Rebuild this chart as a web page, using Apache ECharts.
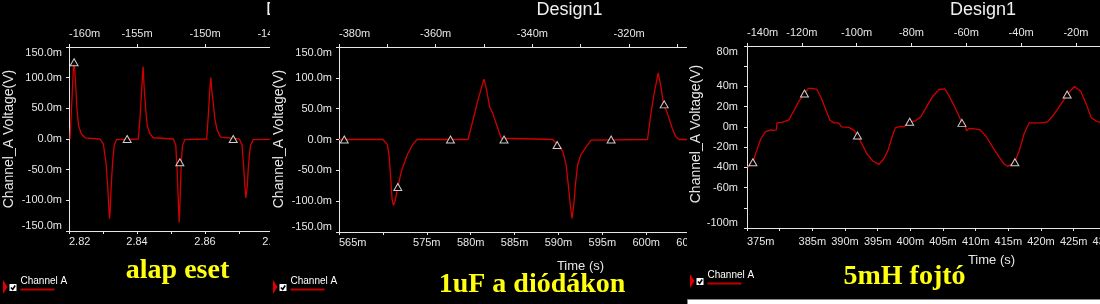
<!DOCTYPE html>
<html>
<head>
<meta charset="utf-8">
<script src="https://cdn.jsdelivr.net/npm/echarts@6/dist/echarts.min.js"></script>
<style>
html,body{margin:0;padding:0;background:#000;}
#wrap{position:relative;width:1100px;height:304px;overflow:hidden;background:#000;}
.pane{position:absolute;top:0;height:304px;}
</style>
</head>
<body>
<div id="wrap">
  <div id="p1" class="pane" style="left:0;width:270px"></div>
  <div id="p2" class="pane" style="left:270px;width:417px"></div>
  <div id="p3" class="pane" style="left:687px;width:413px"></div>
</div>
<script>
// panel 1 - alap eset (time in s, voltage in mV)
var p1Time = [2.8203, 2.8205, 2.8209, 2.8213, 2.8215, 2.8219, 2.8223, 2.8228, 2.8236, 2.8247,
  2.8291, 2.8301, 2.8309, 2.8314, 2.8319, 2.8321, 2.8324, 2.8328, 2.8333, 2.8340,
  2.8404, 2.8409, 2.8414, 2.8418, 2.8421, 2.8426, 2.8430, 2.8438, 2.8448,
  2.8507, 2.8514, 2.8518, 2.8521, 2.8524, 2.8527, 2.8530, 2.8534, 2.8541,
  2.8605, 2.8610, 2.8614, 2.8617, 2.8620, 2.8624, 2.8629, 2.8636, 2.8646,
  2.8701, 2.8709, 2.8713, 2.8717, 2.8720, 2.8724, 2.8727, 2.8730, 2.8734, 2.8742, 2.8890];
var p1Volt = [0, 3, 68, 117, 125, 95, 52, 22, 8.5, 2,
  0, -8, -40, -79, -130, -119, -79, -40, -10, -1,
  0, 35, 84, 118, 84, 46, 22, 8.5, 2,
  0, -10, -51, -95, -136, -95, -40, -10, -1,
  0, 41, 79, 100, 79, 60, 33, 14, 3,
  0, -10, -40, -73, -96, -79, -51, -29, -10, -1, 0];
var p1MarkT = [2.8215, 2.8371, 2.8526, 2.8683];
var p1MarkV = [125, 0, -38, 0];

// panel 2 - 1uF a diódákon (time in ms, voltage in mV)
var p2Time = [565, 570.0, 570.5, 570.7, 570.9, 571.05, 571.2, 571.4, 571.7, 572.1, 572.8, 573.4, 573.9,
  579.69, 580.26, 580.83, 581.51, 581.78, 582.16, 582.53, 582.92, 583.49, 583.67,
  589.35, 589.85, 590.49, 590.87, 591.17, 591.36, 591.55, 591.74, 591.93, 592.19, 592.58, 593.15, 593.72,
  600.15, 600.53, 600.91, 601.36, 601.67, 601.97, 602.42, 602.99, 603.38, 603.75, 610];
var p2Volt = [0, 0, -8, -25, -64, -97, -107, -99, -77, -52, -24, -8, 0,
  0, 31, 64, 98, 83, 53, 42, 25, 2, 0,
  0, -8, -19, -41, -80, -107, -128, -107, -74, -41, -24, -12, -1,
  0, 42, 75, 108, 86, 57, 42, 17, 4, 0, 0];
var p2MarkT = [565.6, 571.7, 577.7, 583.8, 589.85, 596.0, 602.05];
var p2MarkV = [0, -77, 0, 0, -9, 0, 57];

// panel 3 - 5mH fojtó (time in ms, voltage in mV)
var p3Time = [375.1, 375.9, 376.5, 377.1, 377.8, 378.6, 379.1, 379.5, 379.6, 380.4, 381.4, 382.1, 382.9,
  383.8, 384.4, 385.0, 385.7, 386.4, 387.0, 387.7, 388.3, 389.0, 389.5, 390.6, 391.4, 391.9, 392.6,
  393.4, 394.3, 395.2, 395.9, 396.6, 397.2, 397.7, 398.4, 399.0, 399.6, 399.9, 400.8, 401.6, 402.5,
  403.4, 404.4, 405.3, 405.9, 406.7, 407.5, 407.9, 408.4, 408.6, 409.0, 409.8, 410.7, 411.6, 412.6,
  413.6, 414.4, 414.9, 415.5, 416.0, 416.7, 417.4, 418.2, 419.2, 420.2, 421.0, 421.7, 422.8, 424.0,
  425.1, 426.1, 426.9, 427.7, 428.4, 429.2, 430.0];
var p3Volt = [-40, -35, -23, -12, -5, -3, -3.5, -3, 4, 4.5, 7, 15, 25,
  33, 38, 38, 37, 28, 18, 6.5, 4, 4, 0, -0.5, -3.5, -8.5, -17,
  -27, -34, -37, -32, -23, -10, -1, 0.5, 0, 3, 5, 6, 10, 20,
  30, 37, 37.5, 31, 21, 10, 4, 1, -4, -1.5, -2, -3, -9.5, -20,
  -30, -37, -39, -37, -35, -23, -7, 4, 4, 4, 5, 10, 20, 32,
  40, 35, 23, 9, 6, 4, 3];
var p3MarkT = [375.9, 383.8, 391.9, 399.9, 407.9, 416.0, 424.0];
var p3MarkV = [-35, 33, -8.5, 5, 4, -35, 32];

var FG = '#e6e6e6';
var RED = '#d00000';

function zip(a, b) { return a.map(function (v, i) { return [v, b[i]]; }); }

function xAxisOf(pos, c, margin) {
  return {
    type: 'value', position: pos, min: c.min, max: c.max, interval: c.interval,
    axisLine: { show: true, onZero: false, lineStyle: { color: FG, width: 1 } },
    axisTick: { show: true, length: 3, lineStyle: { color: FG } },
    minorTick: { show: !!c.minor, splitNumber: c.minor || 5, length: 3, lineStyle: { color: FG } },
    splitLine: { show: false },
    axisLabel: {
      color: FG, fontSize: 11, fontFamily: 'Arial', margin: margin,
      alignMinLabel: 'left', showMaxLabel: false, formatter: c.fmt
    }
  };
}

function decor(c) {
  var g = [];
  var ly = c.legendY;
  g.push({ type: 'text', style: { text: 'Design1', x: c.designX, y: 1, font: '18px Arial', fill: '#f0f0f0', verticalAlign: 'top' } });
  // y axis title, rotated
  g.push({ type: 'text', x: 9, y: c.nameY, rotation: Math.PI / 2, style: { text: 'Channel_A Voltage(V)', font: '14px Arial', fill: FG, align: 'center', verticalAlign: 'middle' } });
  // legend
  g.push({ type: 'polygon', shape: { points: [[3, ly], [7.5, ly + 7], [3, ly + 14]] }, style: { fill: '#e00000' } });
  g.push({ type: 'rect', shape: { x: 9.5, y: ly + 4, width: 7, height: 7 }, style: { fill: '#fff' } });
  g.push({ type: 'polyline', shape: { points: [[11, ly + 7.5], [12.7, ly + 9.5], [15.2, ly + 5.5]] }, style: { stroke: '#000', lineWidth: 1.6, fill: null } });
  g.push({ type: 'text', style: { text: 'Channel A', x: 20.5, y: ly - 4, font: '10px Arial', fill: '#fff', verticalAlign: 'top' } });
  g.push({ type: 'line', shape: { x1: 20.5, y1: ly + 9.5, x2: 54.5, y2: ly + 9.5 }, style: { stroke: '#c00000', lineWidth: 2 } });
  g.push({ type: 'text', style: { text: c.caption, x: c.capX, y: c.capY, font: 'bold 28px "Liberation Serif"', fill: '#ffff10', align: 'center', verticalAlign: 'middle' } });
  if (c.timeX) {
    g.push({ type: 'text', style: { text: 'Time (s)', x: c.timeX, y: c.timeY, font: '13px Arial', fill: FG, align: 'center', verticalAlign: 'middle' } });
  }
  if (c.strip) {
    g.push({ type: 'rect', shape: { x: 0.5, y: 299.5, width: 420, height: 6 }, style: { fill: '#fff', stroke: '#888', lineWidth: 1 } });
  }
  return g;
}

function panel(id, c) {
  var chart = echarts.init(document.getElementById(id), null, { renderer: 'canvas' });
  chart.setOption({
    backgroundColor: '#000',
    animation: false,
    grid: { left: c.grid[0], top: c.grid[1], width: c.grid[2], height: c.grid[3], outerBoundsMode: 'none', containLabel: false },
    xAxis: [xAxisOf('bottom', c.bottom, c.bottomMargin), xAxisOf('top', c.top, 8)],
    yAxis: {
      type: 'value', min: c.y.min, max: c.y.max, interval: c.y.interval,
      axisLine: { show: true, onZero: false, lineStyle: { color: FG, width: 1 } },
      axisTick: { show: true, length: 3, lineStyle: { color: FG } },
      splitLine: { show: false },
      axisLabel: {
        color: FG, fontSize: 11, fontFamily: 'Arial', margin: c.yMargin, formatter: c.y.fmt,
        verticalAlignMinLabel: 'bottom', verticalAlignMaxLabel: 'top'
      }
    },
    series: [{
      type: 'line', data: zip(c.t, c.v), xAxisIndex: 0, showSymbol: false, clip: true,
      lineStyle: { color: RED, width: 1.3 }
    }, {
      type: 'scatter', data: zip(c.mt, c.mv), xAxisIndex: 0, symbol: 'triangle', symbolSize: [8, 7],
      itemStyle: { color: '#000', borderColor: '#fff', borderWidth: 1 }, z: 4
    }],
    graphic: decor(c)
  });
}

function ms(v) { return v + 'm'; }

panel('p1', {
  grid: [69, 47, 238, 184],
  bottom: { min: 2.82, max: 2.89, interval: 0.02, minor: 2, fmt: function (v) { return v.toFixed(2); } },
  top: { min: -160, max: -142.5, interval: 5, fmt: ms },
  bottomMargin: 5,
  y: { min: -150, max: 150, interval: 50, fmt: function (v) { return v.toFixed(1) + 'm'; } },
  yMargin: 7, nameY: 139,
  t: p1Time, v: p1Volt, mt: p1MarkT, mv: p1MarkV,
  designX: 266, legendY: 280, caption: 'alap eset', capX: 177.5, capY: 270.5
});

panel('p2', {
  grid: [69, 47, 395, 185],
  bottom: { min: 565, max: 610, interval: 5, fmt: function (v) { return v === 570 ? '' : v + 'm'; } },
  top: { min: -380, max: -298.3, interval: 20, minor: 2, fmt: ms },
  bottomMargin: 5,
  y: { min: -150, max: 150, interval: 50, fmt: function (v) { return v.toFixed(1) + 'm'; } },
  yMargin: 7, nameY: 139,
  t: p2Time, v: p2Volt, mt: p2MarkT, mv: p2MarkV,
  designX: 266.5, legendY: 280, caption: '1uF a diódákon', capX: 262, capY: 284.5,
  timeX: 310.5, timeY: 266
});

panel('p3', {
  grid: [60, 46, 392, 182],
  bottom: { min: 375, max: 435, interval: 5, fmt: function (v) { return v === 380 ? '' : v + 'm'; } },
  top: { min: -140, max: 3, interval: 20, fmt: ms },
  bottomMargin: 8,
  y: { min: -100, max: 80, interval: 20, fmt: function (v) { return (v === 60 || v === -80) ? '' : v + 'm'; } },
  yMargin: 9, nameY: 134,
  t: p3Time, v: p3Volt, mt: p3MarkT, mv: p3MarkV,
  designX: 263, legendY: 274, caption: '5mH fojtó', capX: 217.5, capY: 276.5,
  timeX: 304.5, timeY: 260, strip: true
});
</script>
</body>
</html>
